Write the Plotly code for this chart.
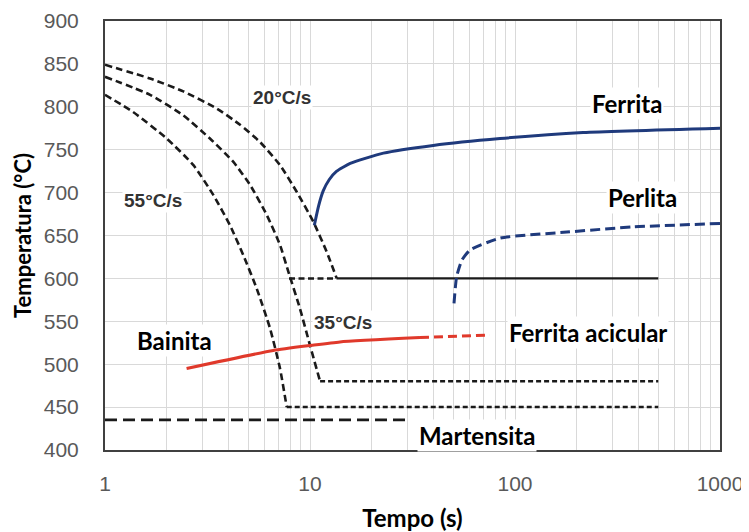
import plotly.graph_objects as go

# Cooling curves (time s, temperature °C)
c20_t = [1, 1.66, 2.41, 3.51, 4.56, 5.70, 7.14, 8.61, 10.38, 12.06, 13.5]
c20_T = [849, 833, 818, 798, 779, 759, 732, 701, 666, 631, 600]
c35_t = [1, 1.66, 2.41, 3.25, 4.22, 5.1, 6.15, 7.14, 7.84, 8.93, 10.0, 11.2]
c35_T = [835, 814, 790, 763, 736, 709, 674, 639, 608, 565, 522, 480]
c55_t = [1, 1.37, 2.0, 2.70, 3.38, 4.07, 4.73, 5.5, 6.38, 7.14, 7.7]
c55_T = [814, 794, 763, 732, 697, 662, 627, 588, 542, 495, 450]

# Isothermal holds
hold600_dash_t = [7.9, 13.5]
hold600_T = [600, 600]
hold600_solid_t = [13.5, 500]
hold480_t = [11.2, 500]
hold480_T = [480, 480]
hold450_t = [7.7, 500]
hold450_T = [450, 450]
mart_t = [1, 30]
mart_T = [435, 435]

# Transformation curves
ferr_t = [10.5, 11.0, 11.6, 12.4, 13.5, 15.7, 22.8, 39.9, 84.5, 215, 1000]
ferr_T = [662, 684, 702, 715, 725, 734, 746, 755, 763, 770, 775]
perl_t = [50.4, 51.9, 55, 60.3, 84.5, 179, 378, 1000]
perl_T = [571, 602, 621, 633, 647, 654, 660, 664]
bain_t = [2.5, 6.62, 10.2, 14, 34.4]
bain_T = [495, 516, 522, 526, 531]
acic_t = [34.4, 75.5]
acic_T = [531, 534]

x_major = [1, 10, 100, 1000]
y_ticks = list(range(400, 901, 50))
grid_vals = [m * 10 ** k for k in range(3) for m in range(1, 10)] + [1000]

black = "#1a1a1a"
navy = "#1f3a7c"
red = "#e0392b"

fig = go.Figure()


def add(t, T, color, width, dash, smooth=True):
    line = dict(color=color, width=width, dash=dash)
    if smooth:
        line.update(shape="spline", smoothing=0.5)
    fig.add_trace(go.Scatter(x=t, y=T, mode="lines", line=line,
                             hoverinfo="skip", showlegend=False))


add(c20_t, c20_T, black, 2.6, "7px,4px")
add(c35_t, c35_T, black, 2.6, "7px,4px")
add(c55_t, c55_T, black, 2.6, "7px,4px")
add(hold600_dash_t, hold600_T, black, 2.5, "6px,3.5px", False)
add(hold600_solid_t, hold600_T, black, 2.2, "solid", False)
add(hold480_t, hold480_T, black, 2.5, "5px,3px", False)
add(hold450_t, hold450_T, black, 2.5, "5px,3px", False)
add(mart_t, mart_T, black, 2.8, "12px,6px", False)
add(ferr_t, ferr_T, navy, 3, "solid")
add(perl_t, perl_T, navy, 3, "10px,5px")
add(bain_t, bain_T, red, 3, "solid")
add(acic_t, acic_T, red, 3, "9px,5px", False)

labels = [
    ("Ferrita", 2.546, 804),
    ("Perlita", 2.624, 694),
    ("Bainita", 0.341, 528),
    ("Ferrita acicular", 2.356, 537),
    ("Martensita", 1.815, 417),
]
for txt, lx, ly in labels:
    fig.add_annotation(x=lx, y=ly, text=txt, showarrow=False, bgcolor="white",
                       font=dict(family="Lato", size=24, color="black", weight="bold"))

rates = [("20°C/s", 0.863, 811), ("55°C/s", 0.234, 691), ("35°C/s", 1.161, 549)]
for txt, lx, ly in rates:
    fig.add_annotation(x=lx, y=ly, text=txt, showarrow=False, bgcolor="white",
                       font=dict(family="Liberation Sans", size=19, color="#333333", weight="bold"))

# The page body adds an 8px offset, so the figure is sized to fit the window.
fig.update_layout(
    width=741, height=524,
    margin=dict(l=97, r=29, t=13, b=82),
    paper_bgcolor="white", plot_bgcolor="white",
    xaxis=dict(type="log", range=[0, 3], tickvals=grid_vals,
               ticktext=[str(v) if v in x_major else "" for v in grid_vals],
               showgrid=True, gridcolor="#d9d9d9", gridwidth=1,
               showline=True, linecolor="#404040", linewidth=2, mirror=True,
               ticks="", zeroline=False, automargin=False, ticklabelstandoff=14,
               tickfont=dict(family="Liberation Sans", size=21, color="#595959"),
               title=dict(text="Tempo (s)", standoff=20,
                          font=dict(family="Lato", size=24, color="black", weight="bold"))),
    yaxis=dict(range=[400, 900], tickvals=y_ticks,
               showgrid=True, gridcolor="#d9d9d9", gridwidth=1,
               showline=True, linecolor="#404040", linewidth=2, mirror=True,
               ticks="", zeroline=False, automargin=False, ticklabelstandoff=20,
               tickfont=dict(family="Liberation Sans", size=21, color="#595959"),
               title=dict(text="Temperatura (°C)", standoff=6,
                          font=dict(family="Lato", size=22, color="black", weight="bold"))),
)

fig.write_html("out.html")
